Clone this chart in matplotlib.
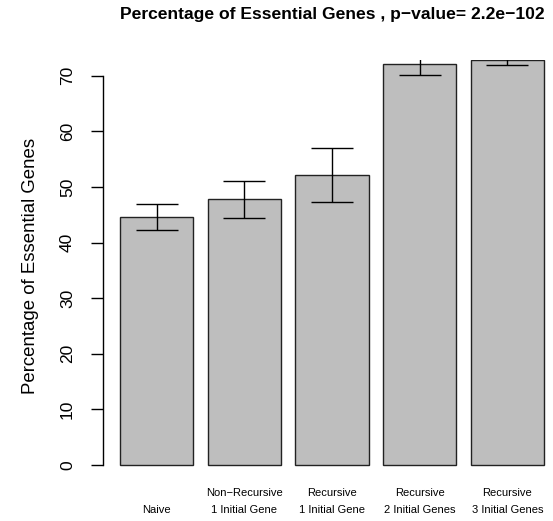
import matplotlib
matplotlib.use("Agg")
import matplotlib.pyplot as plt
import matplotlib.transforms as mtransforms
import numpy as np

plt.rcParams['font.family'] = ['Liberation Sans', 'DejaVu Sans']

categories = ["Naive", "Non\u2212Recursive\n1 Initial Gene", "Recursive\n1 Initial Gene",
              "Recursive\n2 Initial Genes", "Recursive\n3 Initial Genes"]
values = [44.55, 47.75, 52.1, 72.1, 72.9]
errors = [2.35, 3.3, 4.85, 1.9, 0.9]
yticks = [0, 10, 20, 30, 40, 50, 60, 70]
title = "Percentage of Essential Genes , p\u2212value= 2.2e\u2212102"
ylabel = "Percentage of Essential Genes"

W, H = 553, 521
fig = plt.figure(figsize=(W / 100, H / 100), dpi=100)
left_px, right_px, top_px, bot_px = 103, 553, 59.7, 480
ax = fig.add_axes([left_px / W, 1 - bot_px / H, (right_px - left_px) / W, (bot_px - top_px) / H])

x = 0.7 + 1.2 * np.arange(len(values))
ax.bar(x, values, width=1.0, color="#BEBEBE", edgecolor="#222222", linewidth=1.0)
ax.errorbar(x, values, yerr=errors, fmt="none", ecolor="black", elinewidth=1.0,
            capsize=14.8, capthick=1.0)

ax.set_xlim(-0.032, 0.7 + (right_px - 156.7) / 73.08)
ax.set_ylim(72.9 - (bot_px - top_px) / 5.557, 72.9)

for s in ["top", "right", "bottom"]:
    ax.spines[s].set_visible(False)
ax.spines["left"].set_bounds(0, 70)
ax.spines["left"].set_linewidth(1.0)
ax.set_xticks([])
ax.set_yticks(yticks)
ax.set_yticklabels([str(t) for t in yticks], rotation=90, va="center", fontsize=12.5)
ax.tick_params(axis="y", length=8.3, width=1.0, pad=11.9)

trans = mtransforms.blended_transform_factory(ax.transData, fig.transFigure)
for xi, lab in zip(x, categories):
    if "\n" in lab:
        l1, l2 = lab.split("\n")
        ax.text(xi, 1 - 493 / H, l1, transform=trans, ha="center", va="center", fontsize=8)
        ax.text(xi, 1 - 510 / H, l2, transform=trans, ha="center", va="center", fontsize=8)
    else:
        ax.text(xi, 1 - 510 / H, lab, transform=trans, ha="center", va="center", fontsize=8)

fig.text(332 / W, 1 - 15 / H, title, ha="center", va="center", fontsize=12.6, fontweight="bold")
fig.text(31 / W, 1 - 266 / H, ylabel, ha="center", va="center", rotation=90, fontsize=13.4)

fig.savefig("out.png", dpi=100)
